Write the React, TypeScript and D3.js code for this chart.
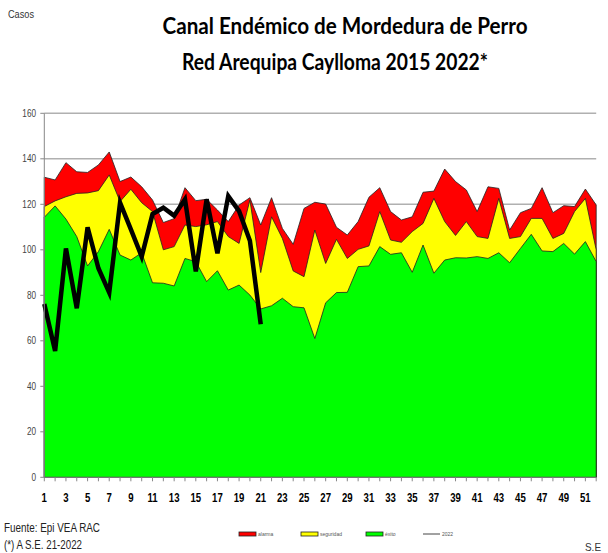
import React from "react"
import * as d3 from "d3"

// semanas epidemiologicas 1..52
const semanas = d3.range(1, 53)

// limites del canal endemico (casos)
const alarma = [131.9, 130.7, 138.3, 134.3, 134, 137.3, 143, 130, 132, 127.7, 121.9, 112, 113.7, 127.3, 121.6, 122.2, 117.5, 112.4, 119.7, 122.9, 110.9, 122.9, 109.4, 102.4, 118.2, 120.9, 120.1, 109.9, 106.5, 112.4, 123.1, 127.3, 116.8, 113.1, 114.5, 125.3, 125.8, 135.5, 130, 126.3, 116.8, 127.7, 127, 108.7, 116.3, 118.2, 127.3, 116.3, 119.4, 119, 126.7, 119.7]
const seguridad = [119, 121.5, 123.3, 124.8, 125, 126, 132.9, 121.2, 126.6, 120.7, 116.8, 100, 101.4, 110.9, 110.2, 111, 112.4, 105.8, 102.8, 121.9, 90, 114.5, 105, 90.7, 88.2, 108.7, 94, 104.6, 96.2, 100.2, 101.7, 116.8, 104.3, 103.3, 108, 111.6, 122.6, 112.4, 106.3, 112.4, 105.8, 105, 122.6, 105, 105.8, 113.8, 113.8, 105, 107.2, 116.8, 122.6, 100]
const exito = [114.3, 119.3, 113.5, 105.8, 92.9, 99.2, 109, 97.7, 95.5, 98.7, 85.5, 85.3, 84.1, 96.2, 94.8, 86, 90.8, 82.3, 84.5, 80.1, 74, 75.4, 78.7, 75, 74.5, 61, 76.7, 81.2, 81.3, 92.6, 92.9, 101.4, 98, 98.7, 90.1, 102.1, 89.7, 95.5, 96.5, 96.4, 97, 96.2, 98.7, 94.3, 100.6, 106.8, 99.5, 99.2, 102.8, 98.1, 103.6, 94.8]
// casos 2022 hasta S.E. 21
const casos2022 = [76.2, 55.5, 100.6, 74.3, 109.9, 91.9, 81.2, 120.7, 109, 97, 115.7, 118.5, 115, 122.2, 90.5, 122.2, 98.5, 123.6, 117, 104, 67.3]

const yTicks = [0, 20, 40, 60, 80, 100, 120, 140, 160]
const xLabels = semanas.filter(s => s % 2 === 1)

const leyenda = [
    { nombre: "alarma", color: "#ff0000" },
    { nombre: "seguridad", color: "#ffff00" },
    { nombre: "éxito", color: "#00ff00" },
    { nombre: "2022", color: null },
]

const sans = "'Liberation Sans', Arial, sans-serif"
const titleFont = "Lato, 'Open Sans', sans-serif"

export default function App() {
    const width = 608
    const height = 553
    const left = 44.3
    const right = 596.2
    const top = 113.3
    const bottom = 477.3

    const x = d3.scaleLinear().domain([1, 52]).range([left, right])
    const y = d3.scaleLinear().domain([0, 160]).range([bottom, top])

    const area = (vals: number[]) =>
        d3
            .area<number>()
            .x((d, i) => x(semanas[i]))
            .y0(y(0))
            .y1(d => y(d))(vals) as string

    const linea = d3
        .line<number>()
        .x((d, i) => x(semanas[i]))
        .y(d => y(d))(casos2022) as string

    const legX = [239, 301, 366, 423]

    return (
        <svg
            width={width}
            height={height}
            style={{ position: "absolute", left: 0, top: 0, background: "#fff" }}
        >
            <text x={8} y={18} fontFamily={sans} fontSize={10} fill="#333" textLength={26} lengthAdjust="spacingAndGlyphs">
                Casos
            </text>
            <text
                x={345}
                y={34}
                textAnchor="middle"
                fontFamily={titleFont}
                fontWeight="bold"
                fontSize={22}
                fill="#000"
                textLength={365}
                lengthAdjust="spacingAndGlyphs"
            >
                Canal Endémico de Mordedura de Perro
            </text>
            <text
                x={335}
                y={70}
                textAnchor="middle"
                fontFamily={titleFont}
                fontWeight="bold"
                fontSize={22}
                fill="#000"
                textLength={306}
                lengthAdjust="spacingAndGlyphs"
            >
                Red Arequipa Caylloma 2015 2022*
            </text>

            {/* lineas de division */}
            {yTicks.slice(1).map(t => (
                <line key={t} x1={left} x2={right} y1={y(t)} y2={y(t)} stroke="#b0b0b0" strokeWidth={1.5} />
            ))}

            {/* zonas del canal */}
            <path d={area(alarma)} fill="#ff0000" stroke="#222" strokeWidth={0.8} />
            <path d={area(seguridad)} fill="#ffff00" stroke="#222" strokeWidth={0.8} />
            <path d={area(exito)} fill="#00ff00" stroke="#222" strokeWidth={0.8} />

            <path d={linea} fill="none" stroke="#000" strokeWidth={4.5} strokeLinejoin="miter" />

            {/* ejes */}
            <line x1={left} x2={left} y1={top} y2={bottom} stroke="#888" strokeWidth={1} />
            <line x1={left} x2={right} y1={bottom} y2={bottom} stroke="#888" strokeWidth={1} />
            {yTicks.map(t => (
                <g key={t}>
                    <line x1={left - 4} x2={left} y1={y(t)} y2={y(t)} stroke="#888" />
                    <text
                        x={36}
                        y={y(t) + 3.5}
                        textAnchor="end"
                        fontFamily={sans}
                        fontSize={10}
                        fill="#444"
                        transform={`translate(36,0) scale(0.82,1) translate(-36,0)`}
                    >
                        {t}
                    </text>
                </g>
            ))}
            {semanas.map(s => (
                <line key={s} x1={x(s)} x2={x(s)} y1={bottom} y2={bottom + 4} stroke="#888" />
            ))}
            {xLabels.map(s => (
                <text
                    key={s}
                    x={x(s)}
                    y={502}
                    textAnchor="middle"
                    fontFamily={sans}
                    fontWeight="bold"
                    fontSize={12}
                    fill="#000"
                    transform={`translate(${x(s)},0) scale(0.8,1) translate(${-x(s)},0)`}
                >
                    {s}
                </text>
            ))}

            {/* leyenda */}
            {leyenda.map((l, i) =>
                l.color ? (
                    <g key={l.nombre}>
                        <rect x={legX[i]} y={532} width={17} height={4} fill={l.color} stroke="#222" strokeWidth={0.8} />
                        <text x={legX[i] + 19} y={536} fontFamily={sans} fontSize={5} fill="#555">
                            {l.nombre}
                        </text>
                    </g>
                ) : (
                    <g key={l.nombre}>
                        <line x1={legX[i]} x2={legX[i] + 17} y1={534} y2={534} stroke="#444" strokeWidth={1} />
                        <text x={legX[i] + 19} y={536} fontFamily={sans} fontSize={5} fill="#555">
                            {l.nombre}
                        </text>
                    </g>
                )
            )}

            <text x={4} y={532} fontFamily={sans} fontSize={12} fill="#222" textLength={96} lengthAdjust="spacingAndGlyphs">
                Fuente: Epi VEA RAC
            </text>
            <text x={4} y={549} fontFamily={sans} fontSize={12} fill="#222" textLength={78} lengthAdjust="spacingAndGlyphs">
                (*) A S.E. 21-2022
            </text>
            <text x={585} y={551} fontFamily={sans} fontSize={11} fill="#333" textLength={16} lengthAdjust="spacingAndGlyphs">
                S.E
            </text>
        </svg>
    )
}
